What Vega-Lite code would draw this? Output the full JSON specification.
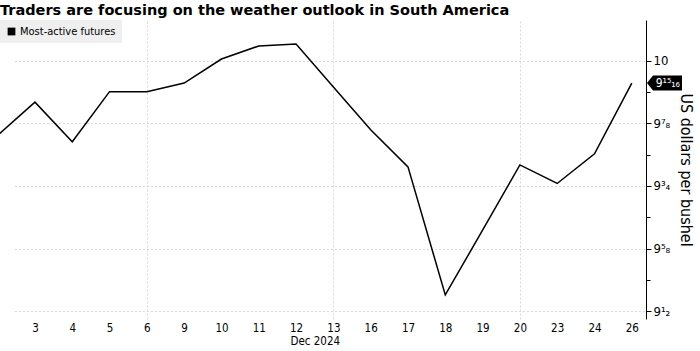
{
  "$schema": "https://vega.github.io/schema/vega-lite/v6.json",
  "width": 646,
  "height": 299,
  "autosize": {"type": "none"},
  "padding": {"left": 0, "top": 20, "right": 54, "bottom": 32},
  "background": "#ffffff",
  "config": {"view": {"stroke": null}},
  "title": {"text": "Traders are focusing on the weather outlook in South America", "anchor": "start", "frame": "group", "font": "DejaVu Sans", "fontWeight": "bold", "fontSize": 14.5, "color": "#000000", "offset": 2},
  "data": {"values": [
    {"date": "2024-12-02", "price": 9.851},
    {"date": "2024-12-03", "price": 9.917},
    {"date": "2024-12-04", "price": 9.838},
    {"date": "2024-12-05", "price": 9.938},
    {"date": "2024-12-06", "price": 9.938},
    {"date": "2024-12-09", "price": 9.955},
    {"date": "2024-12-10", "price": 10.003},
    {"date": "2024-12-11", "price": 10.029},
    {"date": "2024-12-12", "price": 10.033},
    {"date": "2024-12-13", "price": 9.947},
    {"date": "2024-12-16", "price": 9.862},
    {"date": "2024-12-17", "price": 9.788},
    {"date": "2024-12-18", "price": 9.533},
    {"date": "2024-12-19", "price": 9.662},
    {"date": "2024-12-20", "price": 9.792},
    {"date": "2024-12-23", "price": 9.755},
    {"date": "2024-12-24", "price": 9.814},
    {"date": "2024-12-26", "price": 9.955}
  ]},
  "layer": [
    {
      "mark": {"type": "line", "strokeWidth": 1.5, "clip": true},
      "encoding": {
        "x": {"field": "date", "type": "ordinal", "sort": null,
          "scale": {"type": "point", "padding": 0, "range": [-2.35, 631.8]},
          "axis": {"values": ["2024-12-03","2024-12-04","2024-12-05","2024-12-06","2024-12-09","2024-12-10","2024-12-11","2024-12-12","2024-12-13","2024-12-16","2024-12-17","2024-12-18","2024-12-19","2024-12-20","2024-12-23","2024-12-24","2024-12-26"],
            "labelExpr": "'' + toNumber(substring(datum.value, 8, 10))",
            "labelAngle": 0, "ticks": false, "domain": false, "grid": false,
            "labelFont": "DejaVu Sans Condensed", "labelFontSize": 11.5, "labelColor": "#000000", "labelPadding": 3,
            "title": "Dec 2024", "titleFont": "DejaVu Sans Condensed", "titleFontSize": 11.5, "titleFontWeight": "normal", "titleColor": "#000000", "titlePadding": 2}},
        "y": {"field": "price", "type": "quantitative",
          "scale": {"domain": [9.485, 10.0807], "nice": false, "zero": false},
          "axis": {"orient": "right", "values": [9.5, 9.625, 9.75, 9.875, 10],
            "labelExpr": "datum.value == 10 ? '10' : datum.value == 9.875 ? '9⁷₈' : datum.value == 9.75 ? '9³₄' : datum.value == 9.625 ? '9⁵₈' : '9¹₂'",
            "grid": true, "gridDash": [2, 2], "gridColor": "#d9d9d9", "tickSize": 5, "tickColor": "#000000", "domainColor": "#000000",
            "labelFont": "DejaVu Sans Condensed", "labelFontSize": 13, "labelColor": "#000000", "labelPadding": 2,
            "title": "US dollars per bushel", "titleFont": "DejaVu Sans Condensed", "titleFontSize": 16, "titleFontWeight": "normal", "titleColor": "#000000", "titlePadding": 8}},
        "color": {"datum": "Most-active futures", "scale": {"range": ["#000000"]},
          "legend": {"orient": "none", "legendX": 0, "legendY": 0, "title": null, "symbolType": "square", "symbolSize": 60, "symbolStrokeWidth": 0,
            "fillColor": "#efefef", "padding": 6, "labelFont": "DejaVu Sans Condensed", "labelFontSize": 11, "labelColor": "#000000", "labelOffset": 3,
            "encode": {"symbols": {"update": {"fill": {"value": "#000000"}, "stroke": {"value": "#000000"}}}}}}
      }
    },
    {
      "transform": [{"filter": "datum.date == '2024-12-26'"}],
      "mark": {"type": "point", "filled": true, "color": "#000000", "opacity": 1, "size": 400, "strokeWidth": 0,
        "shape": "M1.52,0 L2.12,-0.75 L5.02,-0.75 L5.02,0.75 L2.12,0.75 Z"},
      "encoding": {
        "x": {"field": "date", "type": "ordinal", "sort": null,
          "axis": {"values": ["2024-12-06", "2024-12-13", "2024-12-20"], "labels": false, "ticks": false, "domain": false, "grid": true, "gridDash": [2, 2], "gridColor": "#d9d9d9", "title": null}},
        "y": {"field": "price", "type": "quantitative",
          "axis": {"orient": "right", "values": [9.5625, 9.6875, 9.8125, 9.9375], "labels": false, "domain": false, "grid": false, "tickSize": 4, "tickColor": "#000000", "title": null}}
      }
    },
    {
      "transform": [{"filter": "datum.date == '2024-12-26'"}],
      "mark": {"type": "text", "dx": 36, "align": "center", "baseline": "middle", "color": "#ffffff", "font": "DejaVu Sans Condensed", "fontSize": 12},
      "encoding": {
        "x": {"field": "date", "type": "ordinal", "sort": null, "axis": null},
        "y": {"field": "price", "type": "quantitative", "axis": null},
        "text": {"value": "9¹⁵₁₆"}
      }
    }
  ],
  "resolve": {"axis": {"x": "independent", "y": "independent"}}
}
